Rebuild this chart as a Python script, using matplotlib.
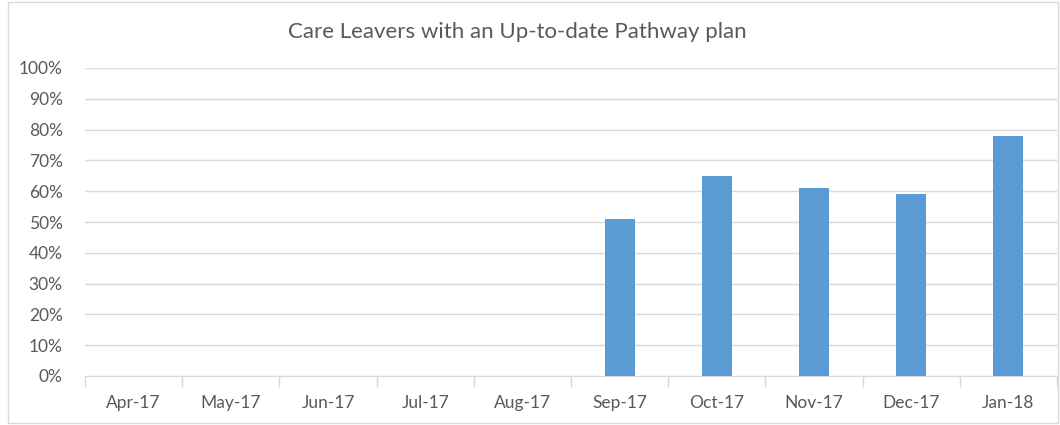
import numpy as np
import matplotlib.pyplot as plt
import matplotlib.patches as mpatches
from matplotlib.ticker import PercentFormatter

months = ['Apr-17', 'May-17', 'Jun-17', 'Jul-17', 'Aug-17',
          'Sep-17', 'Oct-17', 'Nov-17', 'Dec-17', 'Jan-18']
pct = [0, 0, 0, 0, 0, 51, 65, 61, 59, 78]  # % with an up-to-date plan

plt.rcParams['font.family'] = ['Lato', 'DejaVu Sans']
txt = '#595959'
grid = '#D9D9D9'

fig = plt.figure(figsize=(10.6, 4.25), dpi=100)
ax = fig.add_axes([85/1060, 1 - 376/425, (1057-85)/1060, (376-68)/425])

x = np.arange(len(months))
ax.bar(x, pct, width=0.31, color='#5B9BD5', zorder=3)

ax.set_xlim(-0.5, len(months) - 0.5)
ax.set_ylim(0, 100)
ax.set_yticks(np.arange(0, 101, 10))
ax.yaxis.set_major_formatter(PercentFormatter(decimals=0))
ax.set_xticks(x)
ax.set_xticklabels(months)
ax.set_xticks(np.arange(-0.5, len(months), 1), minor=True)
ax.tick_params(axis='x', which='major', length=0, pad=14, labelsize=12.5, colors=txt)
ax.tick_params(axis='x', which='minor', length=8, color=grid, width=1)
ax.tick_params(axis='y', length=0, pad=16, labelsize=12.5, colors=txt)
ax.grid(axis='y', color=grid, linewidth=1, zorder=0)

for s in ['top', 'right', 'left']:
    ax.spines[s].set_visible(False)
ax.spines['bottom'].set_color(grid)

fig.text(517/1060, 1 - 32/425, 'Care Leavers with an Up-to-date Pathway plan',
         ha='center', va='center', fontsize=16, color=txt)

# chart frame
fig.patches.append(mpatches.Rectangle((8/1060, 2/425), 1050/1060, 421/425,
                                      transform=fig.transFigure, fill=False,
                                      edgecolor=grid, linewidth=1))

fig.savefig('out.png', dpi=100)
